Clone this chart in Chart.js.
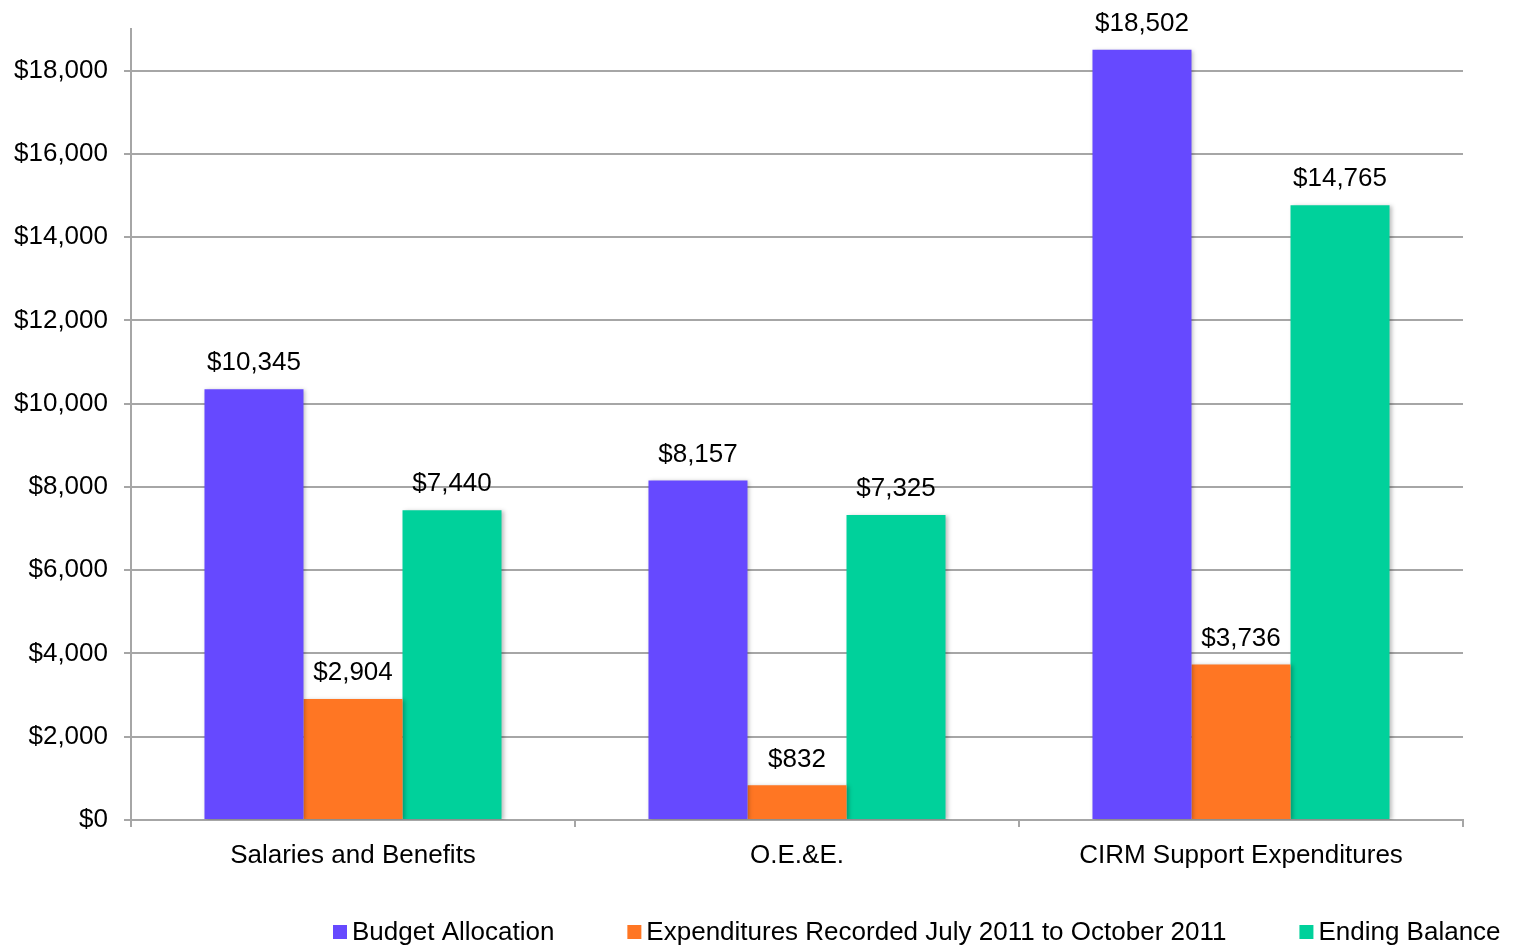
<!DOCTYPE html>
<html>
<head>
<meta charset="utf-8">
<script src="https://cdn.jsdelivr.net/npm/chart.js@4/dist/chart.umd.min.js"></script>
<style>
  html, body { margin: 0; padding: 0; background: #fff; }
  #wrap { width: 1519px; height: 948px; position: relative; }
</style>
</head>
<body>
<div id="wrap"><canvas id="budgetChart"></canvas></div>
<script>
const categories = ["Salaries and Benefits", "O.E.&E.", "CIRM Support Expenditures"];
const budgetAllocation = [10345, 8157, 18502];
const expendituresRecorded = [2904, 832, 3736];
const endingBalance = [7440, 7325, 14765];
const seriesNames = ["Budget Allocation", "Expenditures Recorded July 2011 to October 2011", "Ending Balance"];
const yTicks = [0, 2000, 4000, 6000, 8000, 10000, 12000, 14000, 16000, 18000];

const FONT = "'Liberation Sans', Arial, sans-serif";
const FONT_SIZE = 26;
const GRID = "#a6a6a6";

const money = (v) => "$" + Number(v).toLocaleString("en-US");

// labels above each bar
const valueLabels = {
    id: "valueLabels",
    afterDatasetsDraw(chart) {
        const ctx = chart.ctx;
        ctx.save();
        ctx.font = FONT_SIZE + "px " + FONT;
        ctx.fillStyle = "#000";
        ctx.textAlign = "center";
        ctx.textBaseline = "bottom";
        chart.data.datasets.forEach((ds, i) => {
            chart.getDatasetMeta(i).data.forEach((bar, j) => {
                ctx.fillText(money(ds.data[j]), bar.x, bar.y - 13);
            });
        });
        ctx.restore();
    }
};

// soft shadow behind the bars
const barShadow = {
    id: "barShadow",
    beforeDatasetsDraw(chart) {
        const ctx = chart.ctx;
        ctx.save();
        ctx.shadowColor = "rgba(0,0,0,0.25)";
        ctx.shadowBlur = 4;
        ctx.shadowOffsetX = 2;
        ctx.shadowOffsetY = 1;
    },
    afterDatasetsDraw(chart) {
        chart.ctx.restore();
    }
};

// legend row along the bottom, drawn by hand so the gaps match Excel
const bottomLegend = {
    id: "bottomLegend",
    afterDraw(chart) {
        const ctx = chart.ctx;
        const box = 14, gap = 5, spacing = 73, startX = 333, y = 933;
        ctx.save();
        ctx.font = FONT_SIZE + "px " + FONT;
        ctx.textBaseline = "middle";
        let x = startX;
        chart.data.datasets.forEach((ds) => {
            const w = ctx.measureText(ds.label).width;
            ctx.fillStyle = ds.backgroundColor;
            ctx.fillRect(x, y - box / 2 - 1, box, box);
            ctx.fillStyle = "#000";
            ctx.fillText(ds.label, x + box + gap, y);
            x += box + gap + w + spacing;
        });
        ctx.restore();
    }
};

new Chart(document.getElementById("budgetChart"), {
    type: "bar",
    data: {
        labels: categories,
        datasets: [
            { label: seriesNames[0], data: budgetAllocation, backgroundColor: "#6649ff" },
            { label: seriesNames[1], data: expendituresRecorded, backgroundColor: "#ff7623" },
            { label: seriesNames[2], data: endingBalance, backgroundColor: "#00d19b" }
        ]
    },
    options: {
        responsive: true,
        maintainAspectRatio: false,
        animation: false,
        layout: { padding: { top: 29, left: 12, right: 56, bottom: 68 } },
        datasets: { bar: { categoryPercentage: 0.669, barPercentage: 1.0 } },
        plugins: {
            legend: { display: false },
            tooltip: { enabled: false }
        },
        scales: {
            x: {
                grid: { offset: true, drawOnChartArea: false, color: GRID, lineWidth: 2, tickLength: 7 },
                border: { color: GRID, width: 2 },
                ticks: { color: "#000", font: { family: FONT, size: FONT_SIZE }, padding: 13 },
                afterFit(s) { s.height = 60; s.paddingLeft = 0; s.paddingRight = 0; }
            },
            y: {
                min: 0,
                max: 19000,
                grid: { color: GRID, lineWidth: 2, tickLength: 7 },
                border: { color: GRID, width: 2 },
                ticks: {
                    color: "#000",
                    padding: 16,
                    font: { family: FONT, size: FONT_SIZE },
                    callback: (v) => money(v)
                },
                afterBuildTicks(s) { s.ticks = yTicks.map((v) => ({ value: v })); },
                afterFit(s) { s.width = 119; s.paddingTop = 0; s.paddingBottom = 0; }
            }
        }
    },
    plugins: [barShadow, valueLabels, bottomLegend]
});
</script>
</body>
</html>
